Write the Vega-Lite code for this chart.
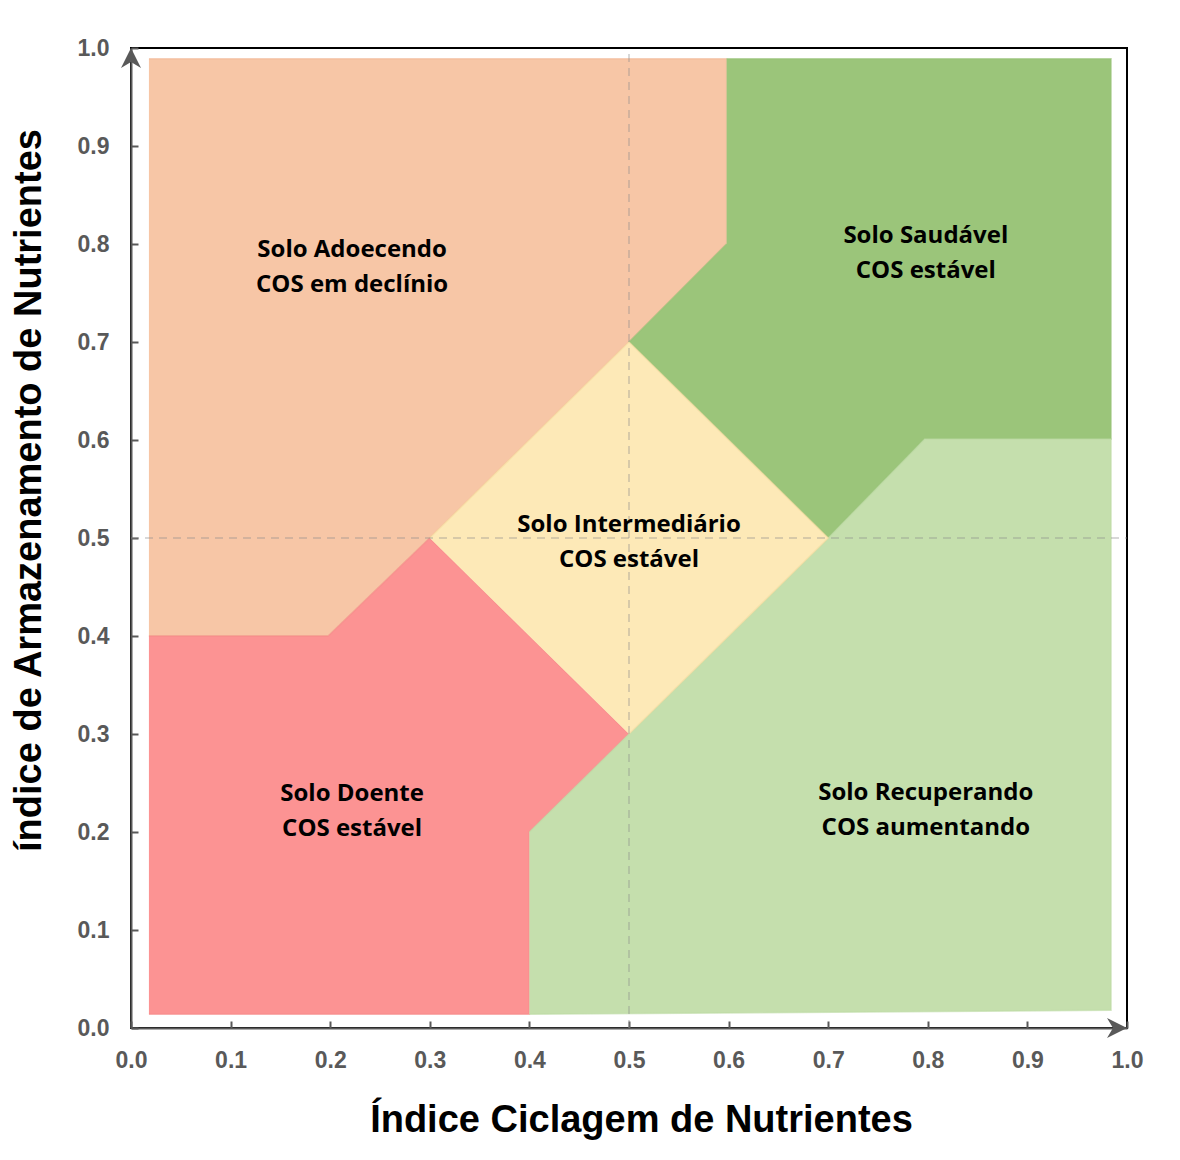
{
  "$schema": "https://vega.github.io/schema/vega-lite/v6.json",
  "width": 996,
  "height": 980,
  "autosize": {"type": "none"},
  "padding": {"left": 131, "top": 48, "right": 53, "bottom": 132},
  "background": "white",
  "config": {"view": {"stroke": "black", "strokeWidth": 2}},
  "datasets": {
    "poly": [
      {"region": "A", "k": 1, "x": 0.018, "y": 0.989},
      {"region": "A", "k": 2, "x": 0.598, "y": 0.989},
      {"region": "A", "k": 3, "x": 0.598, "y": 0.8},
      {"region": "A", "k": 4, "x": 0.5, "y": 0.7},
      {"region": "A", "k": 5, "x": 0.3, "y": 0.5},
      {"region": "A", "k": 6, "x": 0.198, "y": 0.4},
      {"region": "A", "k": 7, "x": 0.018, "y": 0.4},
      {"region": "S", "k": 1, "x": 0.598, "y": 0.989},
      {"region": "S", "k": 2, "x": 0.984, "y": 0.989},
      {"region": "S", "k": 3, "x": 0.984, "y": 0.601},
      {"region": "S", "k": 4, "x": 0.797, "y": 0.601},
      {"region": "S", "k": 5, "x": 0.7, "y": 0.5},
      {"region": "S", "k": 6, "x": 0.5, "y": 0.7},
      {"region": "S", "k": 7, "x": 0.598, "y": 0.8},
      {"region": "D", "k": 1, "x": 0.018, "y": 0.4},
      {"region": "D", "k": 2, "x": 0.198, "y": 0.4},
      {"region": "D", "k": 3, "x": 0.3, "y": 0.5},
      {"region": "D", "k": 4, "x": 0.5, "y": 0.3},
      {"region": "D", "k": 5, "x": 0.4, "y": 0.2},
      {"region": "D", "k": 6, "x": 0.4, "y": 0.014},
      {"region": "D", "k": 7, "x": 0.018, "y": 0.014},
      {"region": "R", "k": 1, "x": 0.4, "y": 0.2},
      {"region": "R", "k": 2, "x": 0.5, "y": 0.3},
      {"region": "R", "k": 3, "x": 0.7, "y": 0.5},
      {"region": "R", "k": 4, "x": 0.797, "y": 0.601},
      {"region": "R", "k": 5, "x": 0.984, "y": 0.601},
      {"region": "R", "k": 6, "x": 0.984, "y": 0.018},
      {"region": "R", "k": 7, "x": 0.4, "y": 0.014},
      {"region": "I", "k": 1, "x": 0.3, "y": 0.5},
      {"region": "I", "k": 2, "x": 0.5, "y": 0.7},
      {"region": "I", "k": 3, "x": 0.7, "y": 0.5},
      {"region": "I", "k": 4, "x": 0.5, "y": 0.3}
    ],
    "labels": [
      {"x": 0.222, "y": 0.794, "t": "Solo Adoecendo\nCOS em declínio"},
      {"x": 0.798, "y": 0.808, "t": "Solo Saudável\nCOS estável"},
      {"x": 0.5, "y": 0.513, "t": "Solo Intermediário\nCOS estável"},
      {"x": 0.222, "y": 0.239, "t": "Solo Doente\nCOS estável"},
      {"x": 0.798, "y": 0.240, "t": "Solo Recuperando\nCOS aumentando"}
    ],
    "vlines": [{"x": 0.5, "y": 0, "y2": 1}],
    "hlines": [{"y": 0.5, "x": 0, "x2": 1}],
    "arrowUp": [{"x": 0, "y": 1}],
    "arrowRight": [{"x": 1, "y": 0}]
  },
  "layer": [
    {
      "data": {"name": "poly"},
      "mark": {"type": "line", "filled": true, "strokeWidth": 1.5, "strokeOpacity": 0.6},
      "encoding": {
        "x": {
          "field": "x", "type": "quantitative",
          "scale": {"domain": [0, 1], "nice": false, "zero": false},
          "axis": {
            "values": [0, 0.1, 0.2, 0.3, 0.4, 0.5, 0.6, 0.7, 0.8, 0.9, 1.0],
            "format": ".1f",
            "grid": false,
            "labelFlush": false,
            "domainColor": "#595959", "domainWidth": 2,
            "tickColor": "#595959", "tickWidth": 2, "tickSize": -7,
            "labelFont": "Liberation Sans", "labelFontWeight": "bold", "labelFontSize": 23, "labelColor": "#595959",
            "labelPadding": 28,
            "title": "Índice Ciclagem de Nutrientes",
            "titleFont": "Liberation Sans", "titleFontWeight": "bold", "titleFontSize": 38, "titleColor": "black",
            "titleAnchor": "middle", "titleAlign": "center", "titleBaseline": "alphabetic",
            "titleX": 510, "titleY": 103
          }
        },
        "y": {
          "field": "y", "type": "quantitative",
          "scale": {"domain": [0, 1], "nice": false, "zero": false},
          "axis": {
            "values": [0, 0.1, 0.2, 0.3, 0.4, 0.5, 0.6, 0.7, 0.8, 0.9, 1.0],
            "format": ".1f",
            "grid": false,
            "labelFlush": false,
            "domainColor": "#595959", "domainWidth": 2,
            "tickColor": "#595959", "tickWidth": 2, "tickSize": -7,
            "labelFont": "Liberation Sans", "labelFontWeight": "bold", "labelFontSize": 23, "labelColor": "#595959",
            "labelPadding": 29,
            "title": "índice de Armazenamento de Nutrientes",
            "titleFont": "Liberation Sans", "titleFontWeight": "bold", "titleFontSize": 38, "titleColor": "black",
            "titleAnchor": "middle", "titleAlign": "center", "titleBaseline": "alphabetic", "titleAngle": -90,
            "titleX": -91, "titleY": 442
          }
        },
        "detail": {"field": "region"},
        "order": {"field": "k", "type": "quantitative"},
        "color": {
          "field": "region", "type": "nominal", "legend": null,
          "scale": {"domain": ["A", "S", "D", "R", "I"], "range": ["#F7C6A6", "#9BC57A", "#FC9393", "#C5DFAD", "#FDE9B7"]}
        },
        "stroke": {
          "field": "region", "type": "nominal", "legend": null,
          "scale": {"domain": ["A", "S", "D", "R", "I"], "range": ["#F2B896", "#96C276", "#F58A88", "#BCDAA3", "#F7DCA0"]}
        }
      }
    },
    {
      "data": {"name": "vlines"},
      "mark": {"type": "rule", "color": "#8C8C8C", "opacity": 0.45, "strokeWidth": 1.5, "strokeDash": [8, 6]},
      "encoding": {
        "x": {"field": "x", "type": "quantitative"},
        "y": {"field": "y", "type": "quantitative"},
        "y2": {"field": "y2"}
      }
    },
    {
      "data": {"name": "hlines"},
      "mark": {"type": "rule", "color": "#8C8C8C", "opacity": 0.45, "strokeWidth": 1.5, "strokeDash": [8, 6]},
      "encoding": {
        "y": {"field": "y", "type": "quantitative"},
        "x": {"field": "x", "type": "quantitative"},
        "x2": {"field": "x2"}
      }
    },
    {
      "data": {"name": "labels"},
      "mark": {"type": "text", "font": "Open Sans", "fontWeight": "bold", "fontSize": 24, "color": "black", "lineBreak": "\n", "lineHeight": 35, "align": "center", "baseline": "middle"},
      "encoding": {
        "x": {"field": "x", "type": "quantitative"},
        "y": {"field": "y", "type": "quantitative"},
        "text": {"field": "t"}
      }
    },
    {
      "data": {"name": "arrowUp"},
      "mark": {"type": "point", "filled": true, "opacity": 1, "color": "#595959", "size": 400, "shape": "M0,0 L1,2 L0,1.4 L-1,2 Z"},
      "encoding": {
        "x": {"field": "x", "type": "quantitative"},
        "y": {"field": "y", "type": "quantitative"}
      }
    },
    {
      "data": {"name": "arrowRight"},
      "mark": {"type": "point", "filled": true, "opacity": 1, "color": "#595959", "size": 400, "shape": "M0,0 L-2,-1 L-1.4,0 L-2,1 Z"},
      "encoding": {
        "x": {"field": "x", "type": "quantitative"},
        "y": {"field": "y", "type": "quantitative"}
      }
    }
  ]
}
